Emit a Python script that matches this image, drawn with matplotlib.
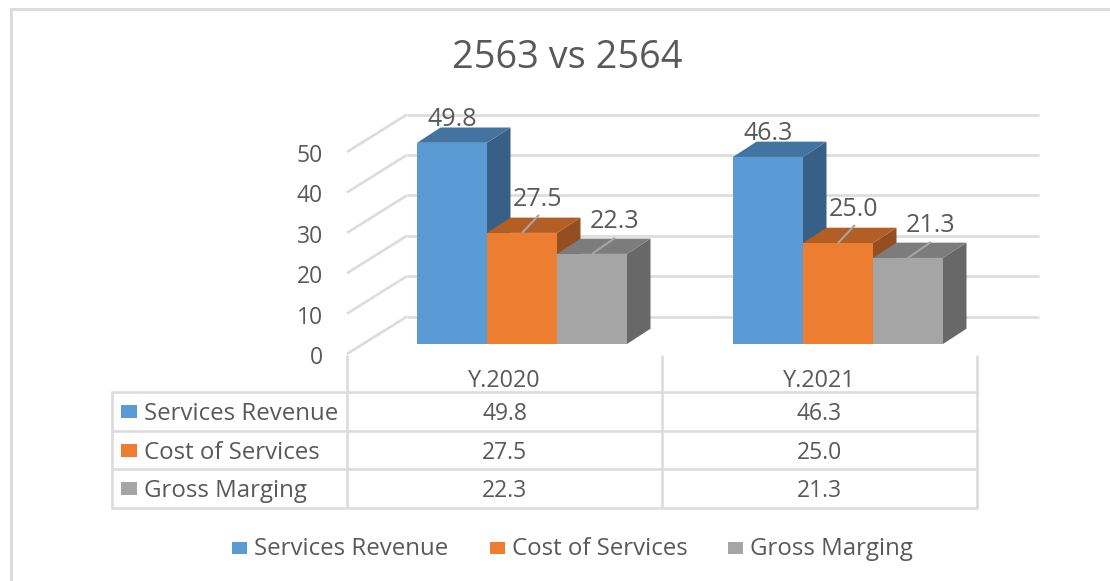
import matplotlib
matplotlib.use('Agg')
import matplotlib.pyplot as plt
from matplotlib.patches import Polygon, Rectangle

categories = ['Y.2020', 'Y.2021']
series_names = ['Services Revenue', 'Cost of Services', 'Gross Marging']
services_revenue = [49.8, 46.3]
cost_of_services = [27.5, 25.0]
gross_marging = [22.3, 21.3]
y_ticks = [0, 10, 20, 30, 40, 50]
title = '2563 vs 2564'

front_colors = ['#5B9BD5', '#ED7D31', '#A5A5A5']
top_colors = ['#4374A0', '#B25E25', '#7C7C7C']
side_colors = ['#386086', '#944E1F', '#686868']
grid_color = '#DCDCDC'
text_color = '#595959'

plt.rcParams['font.family'] = ['Open Sans', 'DejaVu Sans']

fig = plt.figure(figsize=(11.1, 5.81), dpi=100)
ax = fig.add_axes([0, 0, 1, 1])
ax.set_xlim(0, 1110)
ax.set_ylim(581, 0)
ax.axis('off')

px_per_unit = 4.04
bar_w = 70
dx, dy = 23.5, -15.3
group_left = [417, 733]
all_values = [services_revenue, cost_of_services, gross_marging]

# label offset from bar top and leader line per series
label_dx = [0, 16, 23]
label_dy = [-17, -27, -26]
leader = [None, (17, -18), (23, -16)]


def bar_y(v):
    return 344 - px_per_unit * v


def line(xs, ys, color=grid_color, lw=1.9, z=1):
    ax.plot(xs, ys, color=color, lw=lw, zorder=z, solid_capstyle='butt', solid_joinstyle='miter')


# back wall and side wall gridlines
for t in y_ticks:
    wall_y = 316.5 - px_per_unit * t
    floor_y = 354 - px_per_unit * t
    line([347, 407], [floor_y, wall_y])
    line([407, 1039], [wall_y, wall_y])
    ax.text(323, floor_y + 10, str(t), ha='right', va='baseline', fontsize=16.5, color=text_color)

# bars
for g, left in enumerate(group_left):
    for s, values in enumerate(all_values):
        x0 = left + s * bar_w
        x1 = x0 + bar_w
        yt = bar_y(values[g])
        z = 3 + s
        ax.add_patch(Polygon([(x1, 344), (x1 + dx, 344 + dy), (x1 + dx, yt + dy), (x1, yt)],
                             fc=side_colors[s], ec='none', zorder=z))
        ax.add_patch(Polygon([(x0, yt), (x0 + dx, yt + dy), (x1 + dx, yt + dy), (x1, yt)],
                             fc=top_colors[s], ec='none', zorder=z))
        ax.add_patch(Rectangle((x0, yt), bar_w, 344 - yt, fc=front_colors[s], ec='none', zorder=z))
        cx = x0 + bar_w / 2
        if leader[s]:
            line([cx, cx + leader[s][0]], [yt, yt + leader[s][1]], color='#A6A6A6', lw=1.5, z=8)
        ax.text(cx + label_dx[s], yt + label_dy[s], f'{values[g]:.1f}', ha='center', va='baseline',
                fontsize=18, color=text_color, zorder=9)

# data table
row_y = [392, 431, 469, 508]
col_x = [112, 347, 662, 977]
for y in row_y:
    line([col_x[0] - 1, col_x[-1] + 1], [y, y])
line([col_x[0], col_x[0]], [row_y[0], row_y[-1]])
for x in col_x[1:]:
    line([x, x], [355, row_y[-1]])

for g, cat in enumerate(categories):
    cx = (col_x[g + 1] + col_x[g + 2]) / 2
    ax.text(cx, 387, cat, ha='center', va='baseline', fontsize=16.8, color=text_color)
    for s, values in enumerate(all_values):
        ax.text(cx, row_y[s] + 28, f'{values[g]:.1f}', ha='center', va='baseline',
                fontsize=16.5, color=text_color)

for s, name in enumerate(series_names):
    ax.add_patch(Rectangle((121, row_y[s] + 13), 16, 12.5, fc=front_colors[s], ec='none'))
    ax.text(144, row_y[s] + 28, name, ha='left', va='baseline', fontsize=17.3, color=text_color)

# legend
legend_x = [232, 490, 728]
for s, name in enumerate(series_names):
    ax.add_patch(Rectangle((legend_x[s], 542), 15, 12, fc=front_colors[s], ec='none'))
    ax.text(legend_x[s] + 22, 555, name, ha='left', va='baseline', fontsize=17.3, color=text_color)

ax.text(567, 68, title, ha='center', va='baseline', fontsize=27.3, color=text_color)

# chart frame, only the top and left edges show
line([11, 11, 1110], [581, 9, 9], lw=2.2)

fig.savefig('out.png', dpi=100)
